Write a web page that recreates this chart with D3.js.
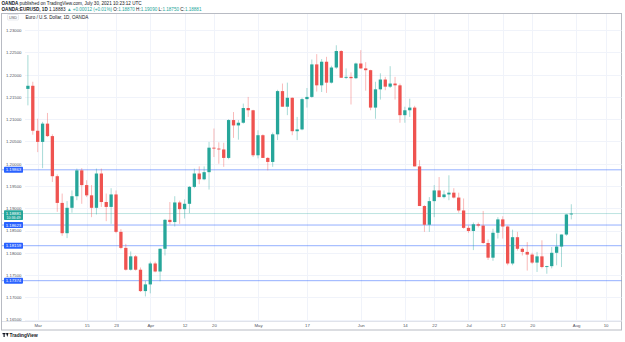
<!DOCTYPE html>
<html><head><meta charset="utf-8">
<script src="https://cdn.jsdelivr.net/npm/d3@7"></script>
<style>html,body{margin:0;padding:0;background:#fff;}svg{display:block;font-family:"Liberation Sans",Arial,sans-serif;}</style>
</head><body><div id="chart"></div>
<script>
// ---- data (daily EUR/USD, OANDA, Feb 25 – Jul 30 2021; business days) ----
const firstDay = "2021-02-25";
const lastDay = "2021-07-30";
const open = [1.2168,1.2175,1.2074,1.2049,1.2090,1.2062,1.1972,1.1912,1.1844,1.1901,1.1927,1.1985,1.1952,1.1929,1.1901,1.1978,1.1914,1.1903,1.1931,1.1847,1.1811,1.1762,1.1792,1.1762,1.1714,1.1729,1.1776,1.1758,1.1809,1.1874,1.1869,1.1913,1.1898,1.1910,1.1948,1.1978,1.1965,1.1981,1.2036,1.2034,1.2032,1.2013,1.2098,1.2086,1.2092,1.2125,1.2120,1.2019,1.2064,1.2013,1.2004,1.2066,1.2163,1.2128,1.2148,1.2073,1.2077,1.2145,1.2150,1.2223,1.2176,1.2229,1.2182,1.2216,1.2253,1.2193,1.2195,1.2192,1.2225,1.2214,1.2210,1.2126,1.2167,1.2189,1.2173,1.2180,1.2176,1.2109,1.2120,1.2126,1.1994,1.1905,1.1863,1.1916,1.1940,1.1925,1.1931,1.1935,1.1924,1.1895,1.1856,1.1849,1.1864,1.1861,1.1822,1.1789,1.1845,1.1875,1.1859,1.1776,1.1835,1.1809,1.1802,1.1796,1.1778,1.1792,1.1768,1.1770,1.1800,1.1814,1.1841,1.18870];
const high = [1.2244,1.2184,1.2101,1.2094,1.2114,1.2066,1.1976,1.1933,1.1916,1.1940,1.1989,1.1990,1.1963,1.1952,1.1989,1.1989,1.1933,1.1945,1.1940,1.1853,1.1820,1.1803,1.1795,1.1767,1.1737,1.1780,1.1780,1.1810,1.1876,1.1914,1.1927,1.1917,1.1920,1.1950,1.1989,1.1994,1.1994,1.2049,1.2079,1.2048,1.2047,1.2100,1.2116,1.2098,1.2135,1.2150,1.2121,1.2075,1.2066,1.2015,1.2070,1.2166,1.2180,1.2182,1.2149,1.2105,1.2148,1.2170,1.2234,1.2246,1.2235,1.2240,1.2220,1.2266,1.2255,1.2214,1.2205,1.2227,1.2255,1.2228,1.2211,1.2184,1.2203,1.2195,1.2219,1.2195,1.2180,1.2128,1.2146,1.2130,1.2008,1.1907,1.1925,1.1952,1.1970,1.1940,1.1974,1.1945,1.1935,1.1922,1.1861,1.1868,1.1868,1.1894,1.1830,1.1854,1.1880,1.1882,1.1861,1.1852,1.1847,1.1812,1.1824,1.1800,1.1802,1.1828,1.1771,1.1813,1.1843,1.1841,1.1887,1.19090];
const low = [1.2131,1.2065,1.2026,1.1990,1.2060,1.1959,1.1892,1.1838,1.1833,1.1890,1.1918,1.1910,1.1925,1.1880,1.1886,1.1903,1.1871,1.1865,1.1844,1.1808,1.1760,1.1760,1.1760,1.1712,1.1702,1.1709,1.1756,1.1736,1.1794,1.1864,1.1859,1.1865,1.1877,1.1889,1.1945,1.1954,1.1963,1.1942,1.2015,1.2000,1.1993,1.2010,1.2058,1.2054,1.2090,1.2105,1.2015,1.2012,1.2013,1.1985,1.1993,1.2053,1.2128,1.2109,1.2064,1.2053,1.2075,1.2126,1.2148,1.2162,1.2161,1.2159,1.2180,1.2213,1.2193,1.2190,1.2133,1.2190,1.2213,1.2164,1.2120,1.2101,1.2144,1.2165,1.2170,1.2144,1.2092,1.2092,1.2105,1.1994,1.1905,1.1847,1.1847,1.1880,1.1925,1.1922,1.1918,1.1922,1.1890,1.1854,1.1845,1.1806,1.1857,1.1820,1.1784,1.1782,1.1832,1.1832,1.1772,1.1772,1.1805,1.1794,1.1760,1.1775,1.1757,1.1765,1.1753,1.1765,1.1772,1.1768,1.1838,1.18750];
const close = [1.2175,1.2074,1.2049,1.2090,1.2062,1.1972,1.1912,1.1844,1.1901,1.1927,1.1985,1.1952,1.1929,1.1901,1.1978,1.1914,1.1903,1.1931,1.1847,1.1811,1.1762,1.1792,1.1762,1.1714,1.1729,1.1776,1.1758,1.1809,1.1874,1.1869,1.1913,1.1898,1.1910,1.1948,1.1978,1.1965,1.1981,1.2036,1.2034,1.2032,1.2013,1.2098,1.2086,1.2092,1.2125,1.2120,1.2019,1.2064,1.2013,1.2004,1.2066,1.2163,1.2128,1.2148,1.2073,1.2077,1.2145,1.2150,1.2223,1.2176,1.2229,1.2182,1.2216,1.2253,1.2193,1.2195,1.2192,1.2225,1.2214,1.2210,1.2126,1.2167,1.2189,1.2173,1.2180,1.2176,1.2109,1.2120,1.2126,1.1994,1.1905,1.1863,1.1916,1.1940,1.1925,1.1931,1.1935,1.1924,1.1895,1.1856,1.1849,1.1864,1.1861,1.1822,1.1789,1.1845,1.1875,1.1859,1.1776,1.1835,1.1809,1.1802,1.1796,1.1778,1.1792,1.1768,1.1770,1.1800,1.1814,1.1841,1.1886,1.18881];

const priceTicks = [1.165,1.17,1.175,1.18,1.185,1.19,1.195,1.2,1.205,1.21,1.215,1.22,1.225,1.23];
const timeTickDates = ["2021-03-01","2021-03-15","2021-03-23","2021-04-01","2021-04-12","2021-04-20","2021-05-03","2021-05-17","2021-06-01","2021-06-14","2021-06-22","2021-07-01","2021-07-12","2021-07-20","2021-08-02","2021-08-10"];
const timeTickLabels = ["Mar","15","23","Apr","12","20","May","17","Jun","14","22","Jul","12","20","Aug","10"];
const levelLines = [1.19863, 1.18623, 1.18159, 1.17374];
const lastPrice = 1.18881;
const countdown = "10:36:49";

// ---- helpers ----
const parse = d3.utcParse("%Y-%m-%d");
const isBiz = d => d.getUTCDay() !== 0 && d.getUTCDay() !== 6;
const start = parse(firstDay);
function barIndex(s){ return d3.utcDay.range(start, parse(s)).filter(isBiz).length; }
const nBars = barIndex(lastDay) + 1;
const candles = d3.range(nBars).map(i => ({i, o:open[i], h:high[i], l:low[i], c:close[i]}));

const W = 625, H = 342;
const UP = "#26a69a", DOWN = "#ef5350";
const svg = d3.select("#chart").append("svg").attr("width", W).attr("height", H);

const x = d3.scaleLinear().domain([0, nBars - 1]).range([27.9, 571.3]);
const y = d3.scaleLinear().domain([1.165, 1.23]).range([319.6, 30.1]);

const paneL = 25, paneR = 621.5, paneT = 13.5, paneB = 321;

// header texts
svg.append("text").attr("x", 1.5).attr("y", 5.2).attr("font-size", 4.6).attr("fill", "#131722")
  .call(t => { t.append("tspan").attr("font-weight", "bold").text("OANDA");
               t.append("tspan").text(" published on TradingView.com, July 30, 2021 10:23:12 UTC"); });
svg.append("text").attr("x", 1.5).attr("y", 11).attr("font-size", 4.6).attr("fill", "#131722")
  .call(t => {
    t.append("tspan").attr("font-weight", "bold").text("OANDA:EURUSD, 1D ");
    t.append("tspan").text("1.18883 ");
    t.append("tspan").attr("fill", UP).text("▲ +0.00012 (+0.01%) ");
    t.append("tspan").text("O:"); t.append("tspan").attr("fill", UP).text("1.18870 ");
    t.append("tspan").text("H:"); t.append("tspan").attr("fill", UP).text("1.19090 ");
    t.append("tspan").text("L:"); t.append("tspan").attr("fill", UP).text("1.18750 ");
    t.append("tspan").text("C:"); t.append("tspan").attr("fill", UP).text("1.18881");
  });

// frame
svg.append("rect").attr("x", 1.5).attr("y", paneT).attr("width", paneR - 1.5).attr("height", 316.5)
  .attr("fill", "#fff").attr("stroke", "#b8bbc3").attr("stroke-width", 1);

// grid
svg.append("g").selectAll("line").data(priceTicks).join("line")
  .attr("x1", paneL).attr("x2", paneR).attr("y1", d => Math.round(y(d)) + 0.5).attr("y2", d => Math.round(y(d)) + 0.5)
  .attr("stroke", "#f0f3fa").attr("stroke-width", 1);
const tickIdx = timeTickDates.map(barIndex);
svg.append("g").selectAll("line").data(tickIdx).join("line")
  .attr("x1", d => Math.round(x(d)) + 0.5).attr("x2", d => Math.round(x(d)) + 0.5)
  .attr("y1", paneT + 0.5).attr("y2", paneB)
  .attr("stroke", "#f0f3fa").attr("stroke-width", 1);

// time axis separator
svg.append("line").attr("x1", 2).attr("x2", paneR).attr("y1", paneB + 0.5).attr("y2", paneB + 0.5)
  .attr("stroke", "#e0e3eb");

// horizontal level lines
svg.append("g").selectAll("line").data(levelLines).join("line")
  .attr("x1", 2).attr("x2", paneR).attr("y1", d => y(d)).attr("y2", d => y(d))
  .attr("stroke", "#2962ff").attr("stroke-opacity", 0.5).attr("stroke-width", 1);

// last price line
svg.append("line").attr("x1", 2).attr("x2", paneR).attr("y1", y(lastPrice)).attr("y2", y(lastPrice))
  .attr("stroke", UP).attr("stroke-opacity", 0.3).attr("stroke-width", 1);

// candles
const cg = svg.append("g");
cg.selectAll("line").data(candles).join("line")
  .attr("x1", d => x(d.i)).attr("x2", d => x(d.i))
  .attr("y1", d => y(d.h)).attr("y2", d => y(d.l))
  .attr("stroke", d => d.c >= d.o ? UP : DOWN).attr("stroke-opacity", 0.5).attr("stroke-width", 0.8);
const bw = 3.3;
cg.selectAll("rect").data(candles).join("rect")
  .attr("x", d => x(d.i) - bw / 2).attr("width", bw)
  .attr("y", d => y(Math.max(d.o, d.c)))
  .attr("height", d => Math.max(0.9, Math.abs(y(d.o) - y(d.c))))
  .attr("fill", d => d.c >= d.o ? UP : DOWN);

// price axis (left, inside)
const ya = d3.axisLeft(y).tickValues(priceTicks).tickFormat(d3.format(".5f")).tickSize(0).tickPadding(0);
const yg = svg.append("g").attr("transform", "translate(21.5,0)").call(ya);
yg.select(".domain").remove();
yg.selectAll("text").attr("font-size", 4.3).attr("fill", "#50535e").attr("font-family", "Liberation Sans, Arial, sans-serif");

// level labels
const lab = svg.append("g");
levelLines.forEach(v => {
  lab.append("rect").attr("x", 4).attr("y", y(v) - 3).attr("width", 19).attr("height", 6).attr("rx", 0.8).attr("fill", "#2962ff");
  lab.append("text").attr("x", 13.5).attr("y", y(v) + 1.6).attr("text-anchor", "middle").attr("font-size", 4.3)
    .attr("fill", "#fff").text(d3.format(".5f")(v));
});
lab.append("rect").attr("x", 4).attr("y", y(lastPrice) - 3.2).attr("width", 19).attr("height", 9.6).attr("rx", 0.8).attr("fill", UP);
lab.append("text").attr("x", 13.5).attr("y", y(lastPrice) + 1.5).attr("text-anchor", "middle").attr("font-size", 4.3)
  .attr("fill", "#fff").text(d3.format(".5f")(lastPrice));
lab.append("text").attr("x", 13.5).attr("y", y(lastPrice) + 5.3).attr("text-anchor", "middle").attr("font-size", 3.6)
  .attr("fill", "#fff").text(countdown);

// time axis
const xa = d3.axisBottom(x).tickValues(tickIdx).tickFormat((d, i) => timeTickLabels[i]).tickSize(0).tickPadding(0);
const xg = svg.append("g").attr("transform", `translate(0,${paneB + 2.5})`).call(xa);
xg.select(".domain").remove();
xg.selectAll("text").attr("font-size", 4.3).attr("fill", "#50535e").attr("font-family", "Liberation Sans, Arial, sans-serif");

// USD badge and legend
svg.append("rect").attr("x", 7.5).attr("y", 14.5).attr("width", 11).attr("height", 5.5).attr("rx", 0.8)
  .attr("fill", "#fff").attr("stroke", "#d1d4dc").attr("stroke-width", 0.5);
svg.append("text").attr("x", 13).attr("y", 18.6).attr("text-anchor", "middle").attr("font-size", 3.8).attr("fill", "#50535e").text("USD");
svg.append("text").attr("x", 25.5).attr("y", 18.8).attr("font-size", 4.6).attr("fill", "#131722").text("Euro / U.S. Dollar, 1D, OANDA");

// TradingView logo
const lg = svg.append("g").attr("fill", "#131722");
lg.append("rect").attr("x", 2.5).attr("y", 333).attr("width", 3).attr("height", 1.2);
lg.append("rect").attr("x", 3.5).attr("y", 333).attr("width", 1.2).attr("height", 4);
lg.append("path").attr("d", "M6,333 L8.6,333 L7.3,337 Z");
svg.append("text").attr("x", 9.5).attr("y", 337).attr("font-size", 4.8).attr("font-weight", "bold").attr("fill", "#131722").text("TradingView");
</script></body></html>
